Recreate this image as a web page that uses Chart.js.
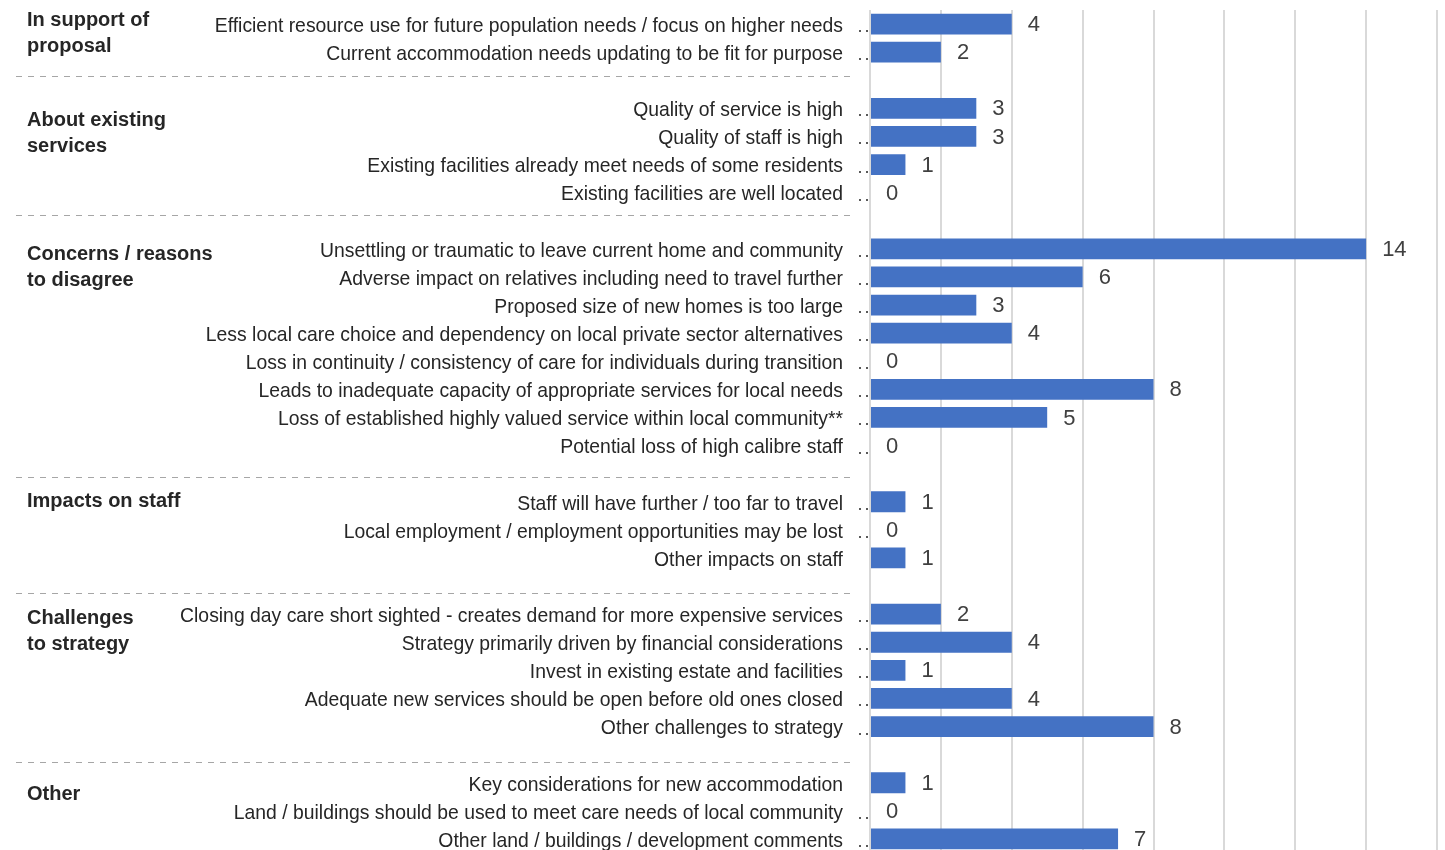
<!DOCTYPE html>
<html>
<head>
<meta charset="utf-8">
<script src="https://cdn.jsdelivr.net/npm/chart.js@4/dist/chart.umd.min.js"></script>
<style>
    body { margin: 0; background: #fff; overflow: hidden; }
    #wrap { width: 1445px; height: 855px; position: relative; }
</style>
</head>
<body>
<div id="wrap"><canvas id="responsesChart"></canvas></div>
<script>
// Response themes, one row each; '' rows are spacers between the groups
const themes = [
    'Efficient resource use for future population needs / focus on higher needs',
    'Current accommodation needs updating to be fit for purpose',
    '',
    'Quality of service is high',
    'Quality of staff is high',
    'Existing facilities already meet needs of some residents',
    'Existing facilities are well located',
    '',
    'Unsettling or traumatic to leave current home and community',
    'Adverse impact on relatives including need to travel further',
    'Proposed size of new homes is too large',
    'Less local care choice and dependency on local private sector alternatives',
    'Loss in continuity / consistency of care for individuals during transition',
    'Leads to inadequate capacity of appropriate services for local needs',
    'Loss of established highly valued service within local community**',
    'Potential loss of high calibre staff',
    '',
    'Staff will have further / too far to travel',
    'Local employment / employment opportunities may be lost',
    'Other impacts on staff',
    '',
    'Closing day care short sighted - creates demand for more expensive services',
    'Strategy primarily driven by financial considerations',
    'Invest in existing estate and facilities',
    'Adequate new services should be open before old ones closed',
    'Other challenges to strategy',
    '',
    'Key considerations for new accommodation',
    'Land / buildings should be used to meet care needs of local community',
    'Other land / buildings / development comments'
];

// Number of responses per theme
const responses = [
    4, 2, null,
    3, 3, 1, 0, null,
    14, 6, 3, 4, 0, 8, 5, 0, null,
    1, 0, 1, null,
    2, 4, 1, 4, 8, null,
    1, 0, 7
];

// Rows that carry the little ". ." leader after the label
const hasLeader = [
    true, true, false,
    true, true, true, true, false,
    true, true, true, true, true, true, true, true, false,
    true, true, false, false,
    true, true, true, true, true, false,
    false, true, true
];

// Group headings (two lines max) and the first row of each group
const groupNames = [
    ['In support of', 'proposal'],
    ['About existing', 'services'],
    ['Concerns / reasons', 'to disagree'],
    ['Impacts on staff'],
    ['Challenges', 'to strategy'],
    ['Other']
];
const groupStartRow = [0, 3, 8, 17, 21, 27];

const xTicks = { min: 0, max: 16, step: 2 };

// Heading nudges (px) and where the dashed dividers sit (row units)
const headingShift = [-4, 12, 6, 0, 4, 12];
const dividerRows = [1.85, 6.80, 16.12, 20.25, 26.26];

// theme labels are set in a narrow face, so squeeze the y tick text sideways
const LABEL_SQUEEZE = 0.922;

const narrowLabels = {
    id: 'narrowLabels',
    afterLayout(chart) {
        const s = chart.scales.y;
        if (s._squeezed) return;
        const orig = s.drawLabels;
        s.drawLabels = function (area) {
            const c = this.ctx;
            const anchor = this.right - this.options.ticks.padding;
            c.save();
            c.translate(anchor, 2);
            c.scale(LABEL_SQUEEZE, 1);
            c.translate(-anchor, 0);
            orig.call(this, area);
            c.restore();
        };
        s._squeezed = true;
    }
};

const groupPlugin = {
    id: 'groupDecor',
    afterDraw(chart) {
        const { ctx } = chart;
        const y = chart.scales.y;

        ctx.save();

        // dashed dividers between groups
        ctx.strokeStyle = '#a6a6a6';
        ctx.lineWidth = 1;
        ctx.setLineDash([6, 6]);
        dividerRows.forEach(r => {
            const py = Math.round(y.getPixelForValue(r)) + 0.5;
            ctx.beginPath();
            ctx.moveTo(16, py);
            ctx.lineTo(856, py);
            ctx.stroke();
        });
        ctx.setLineDash([]);

        // bold group headings
        ctx.fillStyle = '#262626';
        ctx.font = 'bold 20px "Liberation Sans", Arial, sans-serif';
        ctx.textAlign = 'left';
        ctx.textBaseline = 'middle';
        groupNames.forEach((lines, i) => {
            const top = y.getPixelForValue(groupStartRow[i]) + headingShift[i];
            lines.forEach((line, j) => ctx.fillText(line, 27, top + j * 26));
        });

        // leader dots next to the axis
        ctx.fillStyle = '#595959';
        hasLeader.forEach((on, i) => {
            if (!on) return;
            const py = Math.round(y.getPixelForValue(i)) + 6;
            ctx.fillRect(859, py, 2, 2);
            ctx.fillRect(866, py, 2, 2);
        });

        // value labels to the right of each bar
        const meta = chart.getDatasetMeta(0);
        ctx.fillStyle = '#404040';
        ctx.font = '22px "Liberation Sans", Arial, sans-serif';
        meta.data.forEach((bar, i) => {
            const v = responses[i];
            if (v === null) return;
            ctx.fillText(String(v), bar.x + 16, bar.y + 1);
        });

        ctx.restore();
    }
};

// drop the extra room Chart.js reserves around the axes
function noPadding(scale) {
    scale.paddingTop = 0;
    scale.paddingBottom = 0;
    scale.paddingLeft = 0;
    scale.paddingRight = 0;
}

document.addEventListener('DOMContentLoaded', () => {
    const ctx = document.getElementById('responsesChart').getContext('2d');

    new Chart(ctx, {
        type: 'bar',
        data: {
            labels: themes,
            datasets: [{
                data: responses,
                backgroundColor: '#4472c4',
                borderWidth: 0,
                barPercentage: 0.74,
                categoryPercentage: 1
            }]
        },
        options: {
            indexAxis: 'y',
            responsive: true,
            maintainAspectRatio: false,
            animation: false,
            layout: { padding: { top: 10, right: 8, bottom: 2, left: 0 } },
            plugins: {
                legend: { display: false },
                tooltip: { enabled: false }
            },
            scales: {
                x: {
                    min: xTicks.min,
                    max: xTicks.max,
                    ticks: { display: false, stepSize: xTicks.step },
                    grid: { color: '#d9d9d9', lineWidth: 2, drawTicks: false },
                    border: { display: false },
                    afterFit: scale => { scale.height = 0; noPadding(scale); }
                },
                y: {
                    grid: { display: false, drawTicks: false },
                    border: { display: false },
                    ticks: {
                        autoSkip: false,
                        padding: 27,
                        color: '#262626',
                        font: { family: '"Liberation Sans", Arial, sans-serif', size: 21 }
                    },
                    afterFit: scale => { scale.width = 870; noPadding(scale); }
                }
            }
        },
        plugins: [narrowLabels, groupPlugin]
    });
});
</script>
</body>
</html>
